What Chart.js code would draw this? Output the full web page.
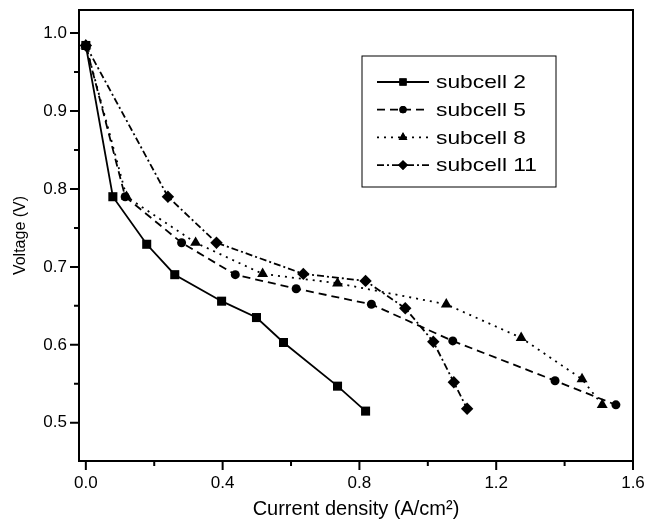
<!DOCTYPE html>
<html lang="en">
<head>
  <meta charset="UTF-8">
  <title>Subcell polarization curves</title>
  <script src="https://cdn.jsdelivr.net/npm/chart.js"></script>
  <style>
    body { margin: 0; padding: 0; background: #fff; }
    #wrap { width: 645px; height: 523px; }
  </style>
</head>
<body>
  <div id="wrap"><canvas id="chart" width="645" height="523"></canvas></div>

  <script>
    // values (current density A/cm2, voltage V)
    const seriesNames = ['subcell 2', 'subcell 5', 'subcell 8', 'subcell 11'];

    const sub2X = [0, 0.079, 0.178, 0.26, 0.397, 0.499, 0.578, 0.736, 0.818];
    const sub2Y = [0.984, 0.790, 0.729, 0.690, 0.656, 0.635, 0.603, 0.547, 0.515];

    const sub5X = [0, 0.115, 0.28, 0.437, 0.615, 0.835, 1.073, 1.372, 1.55];
    const sub5Y = [0.984, 0.790, 0.731, 0.690, 0.672, 0.652, 0.605, 0.554, 0.523];

    const sub8X = [0, 0.119, 0.321, 0.517, 0.736, 1.054, 1.273, 1.451, 1.51];
    const sub8Y = [0.984, 0.790, 0.731, 0.691, 0.679, 0.652, 0.609, 0.556, 0.523];

    const sub11X = [0, 0.24, 0.382, 0.636, 0.818, 0.934, 1.016, 1.076, 1.115];
    const sub11Y = [0.984, 0.790, 0.731, 0.691, 0.682, 0.647, 0.604, 0.552, 0.518];

    const xTicks = [0, 0.4, 0.8, 1.2, 1.6];
    const xMinor = [0.2, 0.6, 1.0, 1.4];
    const yTicks = [0.5, 0.6, 0.7, 0.8, 0.9, 1.0];
    const yMinor = [0.55, 0.65, 0.75, 0.85, 0.95];

    const pts = (xs, ys) => xs.map((x, i) => ({ x: x, y: ys[i] }));

    Chart.defaults.font.family = "'Liberation Sans', Arial, sans-serif";
    Chart.defaults.color = '#000';

    function makeSet(label, data, dash, style, radius) {
      return {
        label: label, data: data,
        borderColor: '#000', backgroundColor: '#000',
        borderWidth: 1.8, borderDash: dash,
        pointStyle: style, pointRadius: radius, pointHoverRadius: radius,
        pointBackgroundColor: '#000', pointBorderColor: '#000', pointBorderWidth: 0,
        tension: 0, fill: false
      };
    }

    // fixed axis sizes, no extra room for edge labels
    function fixScale(s, size) {
      if (s.isHorizontal()) s.height = size; else s.width = size;
      s.paddingLeft = 0; s.paddingRight = 0; s.paddingTop = 0; s.paddingBottom = 0;
    }

    // axes box, tick marks and the legend inside the plot
    const frame = {
      id: 'frame',
      afterDraw(chart) {
        const { ctx, chartArea: a, scales: { x, y } } = chart;
        ctx.save();
        ctx.strokeStyle = '#000';
        ctx.lineWidth = 2;
        ctx.setLineDash([]);
        ctx.strokeRect(a.left, a.top, a.right - a.left, a.bottom - a.top);

        ctx.beginPath();
        xTicks.forEach(v => { const p = x.getPixelForValue(v); ctx.moveTo(p, a.bottom); ctx.lineTo(p, a.bottom + 9); });
        xMinor.forEach(v => { const p = x.getPixelForValue(v); ctx.moveTo(p, a.bottom); ctx.lineTo(p, a.bottom + 5); });
        yTicks.forEach(v => { const p = y.getPixelForValue(v); ctx.moveTo(a.left, p); ctx.lineTo(a.left - 9, p); });
        yMinor.forEach(v => { const p = y.getPixelForValue(v); ctx.moveTo(a.left, p); ctx.lineTo(a.left - 5, p); });
        ctx.stroke();

        // legend
        ctx.lineWidth = 1;
        ctx.fillStyle = '#fff';
        ctx.fillRect(362, 56, 194, 131);
        ctx.strokeRect(362, 56, 194, 131);

        chart.data.datasets.forEach((ds, i) => {
          const cy = 82 + i * 27.7;
          ctx.strokeStyle = '#000';
          ctx.lineWidth = ds.borderWidth;
          ctx.setLineDash(ds.borderDash);
          ctx.beginPath();
          ctx.moveTo(377, cy);
          ctx.lineTo(429, cy);
          ctx.stroke();
          ctx.setLineDash([]);
          ctx.fillStyle = '#000';
          Chart.helpers.drawPoint(ctx, {
            pointStyle: ds.pointStyle, radius: ds.pointRadius * 0.8, rotation: 0, borderWidth: 0
          }, 403, cy);
          ctx.fill();

          ctx.save();
          ctx.translate(436, cy);
          ctx.scale(1.2, 1);
          ctx.font = "19px 'Liberation Sans', Arial, sans-serif";
          ctx.textBaseline = 'middle';
          ctx.textAlign = 'left';
          ctx.fillStyle = '#000';
          ctx.fillText(ds.label, 0, 1);
          ctx.restore();
        });
        ctx.restore();
      }
    };

    new Chart(document.getElementById('chart'), {
      type: 'line',
      data: {
        datasets: [
          makeSet(seriesNames[0], pts(sub2X, sub2Y), [], 'rect', 6.4),
          makeSet(seriesNames[1], pts(sub5X, sub5Y), [8, 5], 'circle', 4.5),
          makeSet(seriesNames[2], pts(sub8X, sub8Y), [2, 5], 'triangle', 6.3),
          makeSet(seriesNames[3], pts(sub11X, sub11Y), [7, 3, 2, 3], 'rectRot', 6.2)
        ]
      },
      options: {
        responsive: false,
        animation: false,
        layout: { padding: { left: 0, top: 10, right: 12, bottom: 0 } },
        plugins: { legend: { display: false }, tooltip: { enabled: false } },
        scales: {
          x: {
            type: 'linear', min: -0.02, max: 1.6,
            afterFit: s => fixScale(s, 62),
            afterBuildTicks: s => { s.ticks = xTicks.map(v => ({ value: v })); },
            grid: { display: false, drawTicks: false },
            border: { display: false },
            ticks: { padding: 12, font: { size: 17 }, color: '#000', maxRotation: 0,
                     callback: v => v.toFixed(1) },
            title: { display: true, text: 'Current density (A/cm²)', font: { size: 20 },
                     color: '#000', padding: { top: 0, bottom: 2 } }
          },
          y: {
            type: 'linear', min: 0.451, max: 1.0295,
            afterFit: s => fixScale(s, 79),
            afterBuildTicks: s => { s.ticks = yTicks.map(v => ({ value: v })); },
            grid: { display: false, drawTicks: false },
            border: { display: false },
            ticks: { padding: 12, font: { size: 17 }, color: '#000',
                     callback: v => v.toFixed(1) },
            title: { display: true, text: 'Voltage (V)', font: { size: 16 },
                     color: '#000', padding: { top: 11, bottom: 0 } }
          }
        }
      },
      plugins: [frame]
    });
  </script>
</body>
</html>
